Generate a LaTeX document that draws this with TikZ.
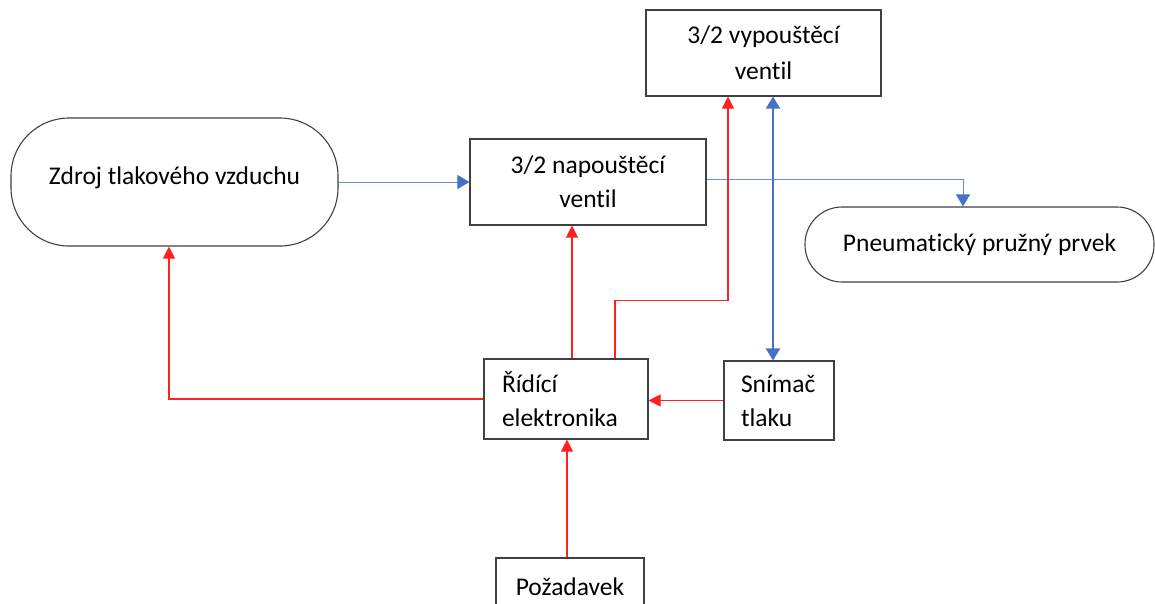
\documentclass[tikz,border=0pt]{standalone}
\usepackage{fontspec}
\setmainfont[Ligatures=NoCommon]{Carlito}
\usetikzlibrary{arrows.meta}
\definecolor{rd}{HTML}{FF2020}
\definecolor{bl}{HTML}{4472C4}
\definecolor{bd}{HTML}{404040}
\tikzset{
  boxnode/.style={draw=bd, line width=1.1pt, inner sep=0pt, align=center,
    font=\fontsize{25.5}{34}\selectfont},
  roundnode/.style={boxnode, rounded corners=#1},
  leftnode/.style={boxnode, align=left},
  redarrow/.style={draw=rd, line width=1.1pt, -{Triangle[width=12pt,length=12pt]}},
  bluearrow/.style={draw=bl!80, line width=1pt, -{Triangle[width=14pt,length=12pt,color=bl]}},
  bluedouble/.style={draw=bl, line width=2pt, {Triangle[width=14pt,length=12pt]}-{Triangle[width=14pt,length=12pt]}},
}
\begin{document}
\begin{tikzpicture}[x=1pt,y=-1pt]
\useasboundingbox (0,0) rectangle (1155,603);
\node[boxnode, minimum width=235pt, minimum height=86pt] (vyp) at (763.5,53) {\raisebox{2pt}{3/2 vypouštěcí}\\ventil};
\node[boxnode, minimum width=236pt, minimum height=86pt] (nap) at (588,182) {3/2 napouštěcí\\ventil};
\node[roundnode=58pt, minimum width=327pt, minimum height=128pt] (zdroj) at (174.5,182) {\raisebox{13pt}{Zdroj tlakového vzduchu}};
\node[roundnode=37pt, minimum width=349pt, minimum height=75pt] (pneu) at (979.5,244.5) {Pneumatický pružný prvek};
\node[leftnode, minimum width=164pt, minimum height=80pt, text width=128pt] (ridici) at (566,399) {Řídící\\elektronika};
\node[leftnode, minimum width=110pt, minimum height=79pt, text width=76pt] (snimac) at (779,400.5) {Snímač\\tlaku};
\node[boxnode, minimum width=148pt, minimum height=80pt] (pozad) at (570,598) {\raisebox{22pt}{Požadavek}};

\draw[bluearrow] (zdroj.east) -- (nap.west);
\draw[bluearrow] ([yshift=3pt]nap.east) -| ([xshift=-16.5pt]pneu.north);
\draw[redarrow] (ridici.west) -| ([xshift=-5.5pt]zdroj.south);
\draw[redarrow] ([xshift=6pt]ridici.north) -- ([xshift=6pt]ridici.north |- nap.south);
\draw[redarrow] ([xshift=49pt]ridici.north) -- ++(0,-58) -| ([xshift=-35.5pt]vyp.south);
\draw[redarrow] (snimac.west) -- (snimac.west -| ridici.east);
\draw[redarrow] ([xshift=-3pt]pozad.north) -- ([xshift=-3pt]pozad.north |- ridici.south);
\draw[bluedouble] ([xshift=9.5pt]vyp.south) -- ([xshift=9.5pt]vyp.south |- snimac.north);
\end{tikzpicture}
\end{document}
